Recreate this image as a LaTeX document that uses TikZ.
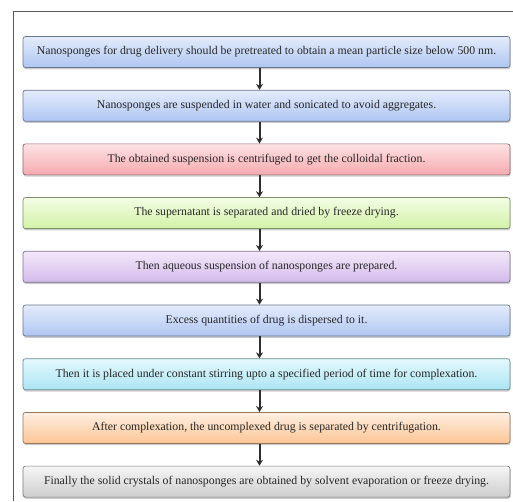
\documentclass[tikz,border=0pt]{standalone}
\usepackage{fontspec}
\setmainfont{Liberation Serif}
\usetikzlibrary{positioning,shadows,arrows.meta}

\definecolor{frameline}{HTML}{5A5A5A}
\definecolor{arrowgray}{HTML}{2E2E2E}
\definecolor{textgray}{HTML}{262626}
% box shades (top / bottom)
\definecolor{bluetop}{HTML}{E4ECFB}\definecolor{bluebot}{HTML}{AEC6F2}
\definecolor{redtop}{HTML}{FDE2E3}\definecolor{redbot}{HTML}{F5AAAF}
\definecolor{greentop}{HTML}{F3FDE4}\definecolor{greenbot}{HTML}{D2F2A8}
\definecolor{violettop}{HTML}{F3E9FA}\definecolor{violetbot}{HTML}{D3BAEA}
\definecolor{cyantop}{HTML}{E4F8FC}\definecolor{cyanbot}{HTML}{ABE5F4}
\definecolor{orangetop}{HTML}{FFF0E2}\definecolor{orangebot}{HTML}{FBC594}
\definecolor{graytop}{HTML}{F6F6F6}\definecolor{graybot}{HTML}{CDCDCD}

\tikzset{
  stepbox/.style={draw=#1bot!60!black, top color=#1top, bottom color=#1bot,
    rounded corners=2.5pt, line width=0.7pt,
    minimum width=487pt, minimum height=31pt, inner sep=0pt,
    text=textgray, font=\fontsize{11.8}{14}\selectfont,
    drop shadow={shadow xshift=0.6pt, shadow yshift=-1.8pt, opacity=0.4}},
  flow/.style={-{Stealth[length=6pt,width=7pt]}, arrowgray, line width=2pt}
}

\begin{document}
\begin{tikzpicture}[x=1pt,y=1pt,node distance=22pt]
    \useasboundingbox (0,0) rectangle (513,501);

    % Outer frame (top and left edges only)
    \draw[frameline,line width=1pt] (13,0) -- (13,489) -- (513,489);

    % Steps
    \node[stepbox=blue] (s1) at (266.5,449)
      {Nanosponges for drug delivery should be pretreated to obtain a mean particle size below 500 nm.};
    \node[stepbox=blue, below=of s1] (s2)
      {Nanosponges are suspended in water and sonicated to avoid aggregates.};
    \node[stepbox=red, below=of s2] (s3)
      {The obtained suspension is centrifuged to get the colloidal fraction.};
    \node[stepbox=green, below=of s3] (s4)
      {The supernatant is separated and dried by freeze drying.};
    \node[stepbox=violet, below=of s4] (s5)
      {Then aqueous suspension of nanosponges are prepared.};
    \node[stepbox=blue, below=of s5] (s6)
      {Excess quantities of drug is dispersed to it.};
    \node[stepbox=cyan, below=of s6] (s7)
      {Then it is placed under constant stirring upto a specified period of time for complexation.};
    \node[stepbox=orange, below=of s7] (s8)
      {After complexation, the uncomplexed drug is separated by centrifugation.};
    \node[stepbox=gray, below=of s8] (s9)
      {Finally the solid crystals of nanosponges are obtained by solvent evaporation or freeze drying.};

    % Arrows (slightly left of centre, as drawn)
    \draw[flow] ([xshift=-7pt]s1.south) -- ([xshift=-7pt]s2.north);
    \draw[flow] ([xshift=-7pt]s2.south) -- ([xshift=-7pt]s3.north);
    \draw[flow] ([xshift=-7pt]s3.south) -- ([xshift=-7pt]s4.north);
    \draw[flow] ([xshift=-7pt]s4.south) -- ([xshift=-7pt]s5.north);
    \draw[flow] ([xshift=-7pt]s5.south) -- ([xshift=-7pt]s6.north);
    \draw[flow] ([xshift=-7pt]s6.south) -- ([xshift=-7pt]s7.north);
    \draw[flow] ([xshift=-7pt]s7.south) -- ([xshift=-7pt]s8.north);
    \draw[flow] ([xshift=-7pt]s8.south) -- ([xshift=-7pt]s9.north);
\end{tikzpicture}
\end{document}
